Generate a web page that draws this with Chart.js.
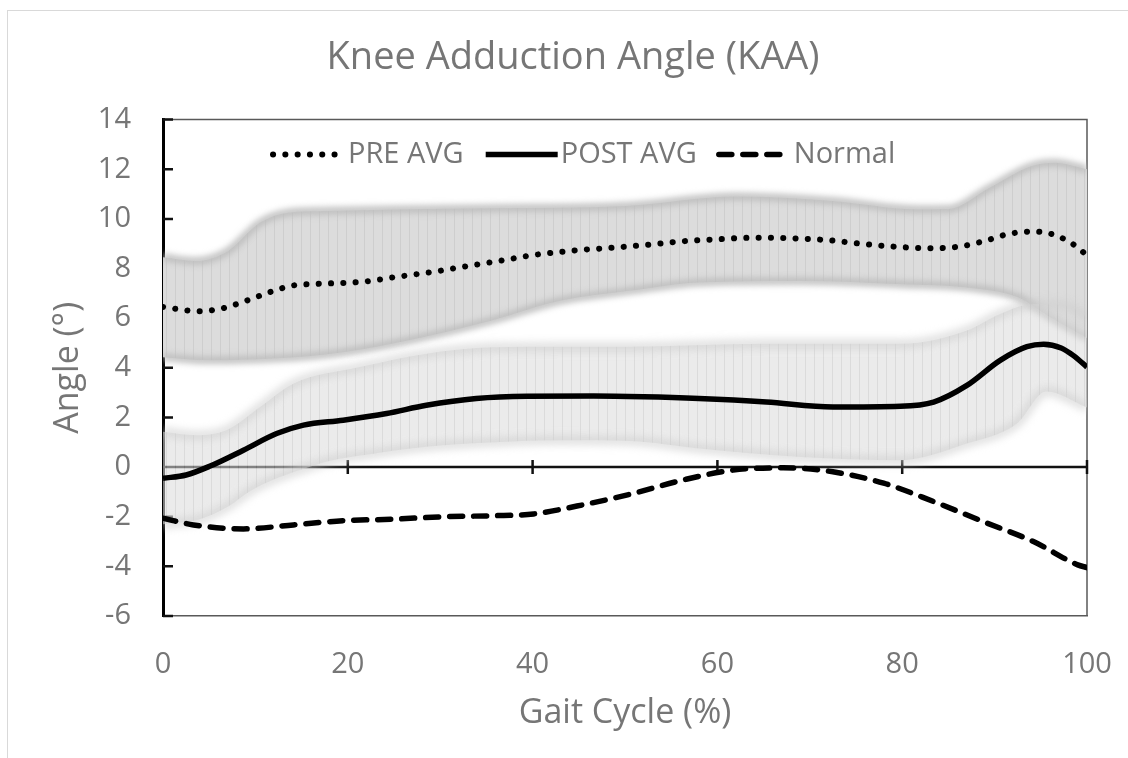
<!DOCTYPE html>
<html>
<head>
<meta charset="utf-8">
<script src="https://cdn.jsdelivr.net/npm/chart.js@4.4.1/dist/chart.umd.min.js"></script>
<style>
  html, body { margin: 0; padding: 0; background: #fff; }
  #wrap { position: relative; width: 1128px; height: 758px; }
</style>
</head>
<body>
<div id="wrap"><canvas id="kaa"></canvas></div>
<script>
// gait cycle (%) positions and angles (deg)
const preX = [0, 4, 6.5, 9, 11.5, 14, 16.5, 19.5, 22, 24.5, 27, 30, 32.5, 35, 37.5, 40, 43, 45.5, 48, 52, 56, 60, 64, 68, 72, 76, 80, 83.5, 86.5, 89, 91.5, 94, 96.5, 99, 100];
const preAvg = [6.45, 6.28, 6.4, 6.7, 7.04, 7.31, 7.38, 7.42, 7.48, 7.62, 7.75, 7.91, 8.07, 8.22, 8.38, 8.54, 8.67, 8.76, 8.82, 8.94, 9.09, 9.18, 9.24, 9.22, 9.14, 8.98, 8.86, 8.82, 8.9, 9.12, 9.39, 9.49, 9.35, 8.85, 8.51];

const preHiX = [0, 3.5, 7, 10.5, 13.5, 17.5, 25, 35.5, 50, 62, 72.5, 81.5, 85, 89.5, 94, 96.5, 100];
const preHi = [8.45, 8.3, 8.7, 9.85, 10.25, 10.32, 10.38, 10.43, 10.52, 10.9, 10.72, 10.39, 10.4, 11.26, 12.13, 12.26, 12.0];
const preLoX = [0, 5, 12, 19.5, 26.5, 35.5, 43, 50.5, 58, 69, 80, 87, 92.5, 96, 100];
const preLo = [4.43, 4.3, 4.37, 4.63, 5.1, 5.9, 6.7, 7.1, 7.44, 7.5, 7.37, 7.24, 6.84, 6.04, 5.2];

const postX = [0, 2.5, 5.1, 8.7, 12.3, 15.2, 19.5, 24.2, 28.5, 33.9, 39.4, 46.6, 52, 58, 65.3, 72.5, 79.8, 83.4, 87, 90.6, 93.5, 95.3, 97.2, 98.5, 100];
const postAvg = [-0.45, -0.32, 0.04, 0.68, 1.35, 1.69, 1.89, 2.16, 2.49, 2.76, 2.85, 2.86, 2.83, 2.76, 2.62, 2.42, 2.45, 2.62, 3.29, 4.3, 4.85, 4.95, 4.8, 4.5, 4.03];

const postHiX = [0, 3.6, 6.9, 10.5, 14.1, 21.3, 28.5, 35.7, 43, 50, 65, 80, 87, 90.6, 94.2, 97.8, 100];
const postHi = [1.42, 1.28, 1.49, 2.42, 3.36, 4.03, 4.57, 4.83, 4.85, 4.85, 4.97, 4.97, 5.5, 6.17, 6.57, 6.5, 6.04];
const postLoX = [0, 4, 7, 9.5, 12, 15, 18, 22, 28.5, 36, 43, 50.5, 58, 69, 79.8, 87, 92.4, 95.6, 100];
const postLo = [-2.3, -2.1, -1.6, -0.95, -0.5, -0.1, 0.25, 0.5, 0.82, 1.0, 1.08, 1.05, 0.75, 0.41, 0.28, 0.95, 1.75, 3.05, 2.4];

const normX = [0, 3.3, 8.7, 14.1, 19.5, 24.9, 30.3, 35.7, 40.1, 44.8, 50.5, 56.3, 61.7, 67.1, 72.5, 78, 83.4, 88.8, 94.2, 99, 100];
const normal = [-2.06, -2.33, -2.49, -2.33, -2.16, -2.1, -2.0, -1.96, -1.89, -1.57, -1.1, -0.52, -0.12, -0.03, -0.19, -0.65, -1.39, -2.2, -3.0, -3.94, -4.05];

const seriesLabels = ['PRE AVG', 'POST AVG', 'Normal'];
const titleText = 'Knee Adduction Angle (KAA)';
const xTitle = 'Gait Cycle (%)';
const yTitle = 'Angle (°)';

const FONT = '"Open Sans", sans-serif';
const TEXT = '#767676';

const pts = (xs, ys) => xs.map((x, i) => ({ x, y: ys[i] }));

const canvas = document.getElementById('kaa');
const ctx0 = canvas.getContext('2d');

// thin vertical strokes like the stacked error bars in the band
function stripes(base, line) {
  const c = document.createElement('canvas');
  c.width = 9; c.height = 4;
  const g = c.getContext('2d');
  g.fillStyle = base; g.fillRect(0, 0, 9, 4);
  g.clearRect(4, 0, 1, 4);
  g.fillStyle = line; g.fillRect(4, 0, 1, 4);
  return ctx0.createPattern(c, 'repeat');
}

const excelAxes = {
  id: 'excelAxes',
  beforeDraw(chart) {
    const ctx = chart.ctx;
    ctx.save();
    ctx.strokeStyle = '#d9d9d9';
    ctx.lineWidth = 1;
    ctx.strokeRect(7.5, 10.5, chart.width, chart.height);
    ctx.restore();
  },
  beforeDatasetsDraw(chart) {
    const { ctx, chartArea: a, scales: { x, y } } = chart;
    const y0 = y.getPixelForValue(0);
    ctx.save();
    ctx.strokeStyle = '#595959';
    ctx.lineWidth = 1.5;
    ctx.beginPath();
    ctx.moveTo(a.left, a.top);
    ctx.lineTo(a.right, a.top);
    ctx.lineTo(a.right, a.bottom);
    ctx.stroke();

    ctx.strokeStyle = '#111';
    ctx.lineWidth = 2.5;
    ctx.beginPath();
    ctx.moveTo(a.left, y0);
    ctx.lineTo(a.right, y0);
    x.ticks.forEach(t => {
      if (t.value <= 0) return;
      const px = x.getPixelForValue(t.value);
      ctx.moveTo(px, y0 - 7);
      ctx.lineTo(px, y0 + 7);
    });
    y.ticks.forEach(t => {
      const py = y.getPixelForValue(t.value);
      ctx.moveTo(a.left, py);
      ctx.lineTo(a.left + 10, py);
    });
    ctx.stroke();
    ctx.restore();
  },
  beforeDatasetDraw(chart, args) {
    const ds = chart.data.datasets[args.index];
    if (ds.softEdge) {
      chart.ctx.save();
      chart.ctx.filter = 'blur(' + ds.softEdge + 'px)';
    }
  },
  afterDatasetDraw(chart, args) {
    if (chart.data.datasets[args.index].softEdge) chart.ctx.restore();
  },
  afterDatasetsDraw(chart) {
    // legend sits inside the plot, like the Excel original
    const { ctx, chartArea: a } = chart;
    const items = chart.data.datasets.filter(d => d.label);
    let lx = a.left + 110;
    const ly = a.top + 35;
    ctx.save();
    ctx.font = '29px ' + FONT;
    ctx.textBaseline = 'middle';
    items.forEach(d => {
      ctx.save();
      ctx.strokeStyle = d.borderColor;
      ctx.lineWidth = d.borderWidth;
      ctx.lineCap = d.borderCapStyle || 'butt';
      ctx.setLineDash(d.borderDash || []);
      ctx.beginPath();
      ctx.moveTo(lx, ly);
      ctx.lineTo(lx + 72, ly);
      ctx.stroke();
      ctx.restore();
      ctx.fillStyle = TEXT;
      ctx.fillText(d.label, lx + 75, ly);
      lx += 75 + ctx.measureText(d.label).width + 22;
    });
    ctx.restore();
  }
};

const lineBase = { pointRadius: 0, cubicInterpolationMode: 'monotone', fill: false, borderColor: '#000', borderWidth: 5.5, order: 1 };

new Chart(canvas, {
  type: 'line',
  data: {
    datasets: [
      { ...lineBase, label: seriesLabels[0], data: pts(preX, preAvg), borderDash: [0.1, 12.2], borderCapStyle: 'round', borderWidth: 6 },
      { ...lineBase, label: seriesLabels[1], data: pts(postX, postAvg) },
      { ...lineBase, label: seriesLabels[2], data: pts(normX, normal), borderDash: [13, 11], borderCapStyle: 'round' },
      { label: '', data: pts(preHiX, preHi), pointRadius: 0, cubicInterpolationMode: 'monotone', fill: '+1',
        backgroundColor: stripes('#dcdcdc', '#cecece'), borderColor: '#bcbcbc', borderWidth: 7, softEdge: 3, order: 20 },
      { label: '', data: pts(preLoX, preLo), pointRadius: 0, cubicInterpolationMode: 'monotone', fill: false,
        borderColor: '#bcbcbc', borderWidth: 7, softEdge: 3, order: 19 },
      { label: '', data: pts(postHiX, postHi), pointRadius: 0, cubicInterpolationMode: 'monotone', fill: '+1',
        backgroundColor: stripes('rgba(219,219,219,0.56)', 'rgba(190,190,190,0.56)'), borderColor: 'rgba(205,205,205,0.8)', borderWidth: 7, softEdge: 4, order: 18 },
      { label: '', data: pts(postLoX, postLo), pointRadius: 0, cubicInterpolationMode: 'monotone', fill: false,
        borderColor: 'rgba(205,205,205,0.8)', borderWidth: 7, softEdge: 4, order: 17 },
    ],
  },
  options: {
    responsive: true, maintainAspectRatio: false, animation: false,
    layout: { padding: { left: 18, right: 0, top: 0, bottom: 24 } },
    plugins: {
      legend: { display: false },
      tooltip: { enabled: false },
      title: {
        display: true, text: titleText, color: TEXT,
        font: { family: FONT, size: 38, weight: 'normal' },
        padding: { top: 35, bottom: 39 },
      },
    },
    scales: {
      x: {
        type: 'linear', min: 0, max: 100,
        ticks: { stepSize: 20, color: TEXT, padding: 3, font: { family: FONT, size: 29 } },
        grid: { display: false, drawTicks: true, tickLength: 28 },
        border: { color: '#595959', width: 1.5 },
        title: { display: true, text: xTitle, color: TEXT, font: { family: FONT, size: 34 }, padding: { top: 0, bottom: 0 } },
        afterFit(s) { s.height = 118; },
      },
      y: {
        min: -6, max: 14,
        ticks: { stepSize: 2, color: TEXT, padding: 32, font: { family: FONT, size: 29 } },
        grid: { display: false, drawTicks: false },
        border: { color: '#000', width: 3 },
        title: { display: true, text: yTitle, color: TEXT, font: { family: FONT, size: 34 }, padding: { top: 30, bottom: 0 } },
        afterFit(s) { s.width = 145; },
      },
      yR: {
        position: 'right', min: -6, max: 14,
        ticks: { display: false },
        grid: { display: false, drawTicks: false },
        border: { display: false },
        afterFit(s) { s.width = 41; },
      },
    },
  },
  plugins: [excelAxes],
});
</script>
</body>
</html>
